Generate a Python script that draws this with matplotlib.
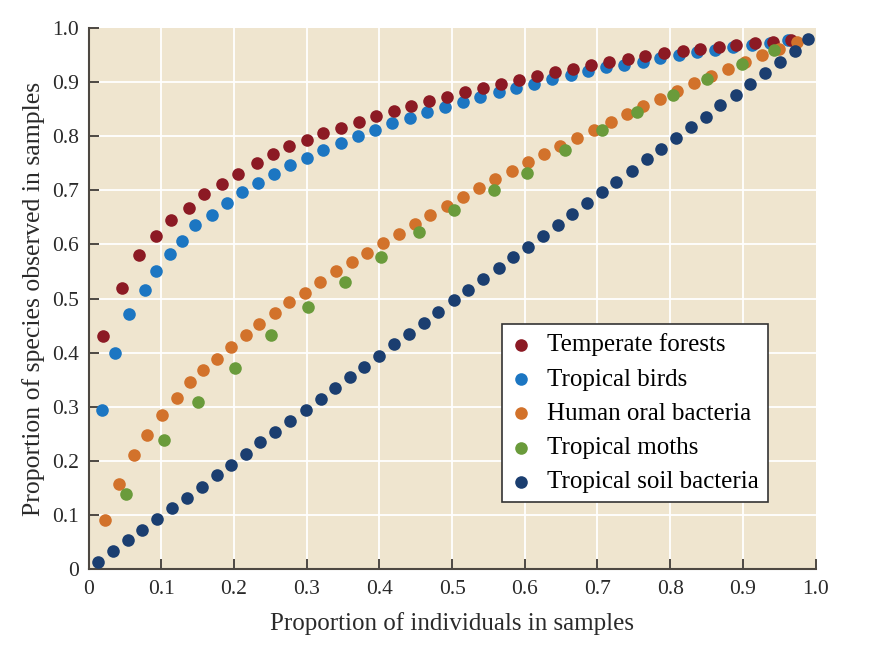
import matplotlib.pyplot as plt

# data
labels = ['Temperate forests', 'Tropical birds', 'Human oral bacteria',
          'Tropical moths', 'Tropical soil bacteria']
colors = ['#8c1a24', '#1c76c2', '#d2722b', '#6a9b3b', '#1b3e70']

forest_x = [0.020, 0.046, 0.069, 0.093, 0.113, 0.138, 0.159, 0.184, 0.205, 0.231,
            0.253, 0.276, 0.300, 0.323, 0.347, 0.372, 0.395, 0.420, 0.444, 0.468,
            0.493, 0.518, 0.542, 0.567, 0.592, 0.617, 0.642, 0.666, 0.691, 0.716,
            0.742, 0.766, 0.791, 0.817, 0.841, 0.867, 0.891, 0.916, 0.942, 0.966]
forest_y = [0.430, 0.520, 0.580, 0.615, 0.645, 0.667, 0.693, 0.712, 0.730, 0.750,
            0.767, 0.781, 0.793, 0.805, 0.816, 0.827, 0.837, 0.846, 0.855, 0.865,
            0.872, 0.881, 0.889, 0.897, 0.904, 0.911, 0.918, 0.924, 0.931, 0.937,
            0.942, 0.948, 0.953, 0.957, 0.962, 0.965, 0.969, 0.972, 0.975, 0.977]

birds_x = [0.019, 0.037, 0.056, 0.078, 0.093, 0.112, 0.129, 0.146, 0.170, 0.190,
           0.211, 0.233, 0.255, 0.277, 0.300, 0.323, 0.347, 0.371, 0.394, 0.418,
           0.442, 0.466, 0.490, 0.515, 0.539, 0.564, 0.588, 0.613, 0.638, 0.663,
           0.687, 0.712, 0.737, 0.762, 0.786, 0.812, 0.837, 0.862, 0.886, 0.912,
           0.937, 0.962]
birds_y = [0.293, 0.400, 0.471, 0.515, 0.551, 0.582, 0.606, 0.636, 0.655, 0.676,
           0.696, 0.714, 0.730, 0.746, 0.760, 0.774, 0.788, 0.800, 0.812, 0.824,
           0.833, 0.844, 0.854, 0.863, 0.873, 0.881, 0.890, 0.897, 0.905, 0.913,
           0.920, 0.927, 0.932, 0.938, 0.944, 0.950, 0.955, 0.960, 0.965, 0.969,
           0.973, 0.977]

oral_x = [0.022, 0.042, 0.063, 0.081, 0.101, 0.121, 0.140, 0.157, 0.177, 0.196,
          0.216, 0.235, 0.256, 0.276, 0.298, 0.318, 0.340, 0.362, 0.383, 0.405,
          0.427, 0.449, 0.470, 0.493, 0.515, 0.537, 0.559, 0.582, 0.605, 0.627,
          0.649, 0.672, 0.695, 0.718, 0.740, 0.763, 0.786, 0.810, 0.833, 0.856,
          0.880, 0.903, 0.926, 0.950, 0.974]
oral_y = [0.090, 0.158, 0.210, 0.248, 0.285, 0.316, 0.345, 0.368, 0.388, 0.411,
          0.432, 0.452, 0.473, 0.493, 0.511, 0.531, 0.550, 0.568, 0.585, 0.603,
          0.620, 0.638, 0.654, 0.671, 0.688, 0.704, 0.720, 0.735, 0.752, 0.767,
          0.782, 0.797, 0.812, 0.827, 0.841, 0.856, 0.869, 0.884, 0.898, 0.912,
          0.925, 0.938, 0.951, 0.962, 0.975]

moths_x = [0.052, 0.104, 0.150, 0.202, 0.251, 0.302, 0.353, 0.402, 0.455, 0.503,
           0.558, 0.603, 0.655, 0.706, 0.754, 0.804, 0.851, 0.899, 0.943]
moths_y = [0.139, 0.238, 0.308, 0.371, 0.432, 0.484, 0.531, 0.577, 0.622, 0.663,
           0.700, 0.732, 0.774, 0.811, 0.845, 0.876, 0.906, 0.933, 0.959]

soil_x = [0.013, 0.033, 0.054, 0.074, 0.094, 0.115, 0.135, 0.156, 0.176, 0.196,
          0.216, 0.236, 0.257, 0.277, 0.299, 0.319, 0.339, 0.359, 0.379, 0.400,
          0.420, 0.441, 0.461, 0.481, 0.502, 0.522, 0.543, 0.564, 0.584, 0.604,
          0.625, 0.645, 0.665, 0.686, 0.706, 0.726, 0.747, 0.768, 0.788, 0.808,
          0.829, 0.849, 0.869, 0.890, 0.910, 0.930, 0.951, 0.971, 0.990]
soil_y = [0.013, 0.033, 0.053, 0.073, 0.092, 0.113, 0.132, 0.152, 0.173, 0.193,
          0.213, 0.234, 0.253, 0.274, 0.294, 0.314, 0.334, 0.354, 0.374, 0.394,
          0.415, 0.435, 0.455, 0.475, 0.497, 0.515, 0.536, 0.556, 0.576, 0.596,
          0.615, 0.636, 0.656, 0.676, 0.696, 0.716, 0.736, 0.757, 0.777, 0.797,
          0.817, 0.836, 0.857, 0.877, 0.897, 0.917, 0.937, 0.957, 0.979]

ticks = [0, 0.1, 0.2, 0.3, 0.4, 0.5, 0.6, 0.7, 0.8, 0.9, 1.0]
tick_labels = ['0', '0.1', '0.2', '0.3', '0.4', '0.5', '0.6', '0.7', '0.8', '0.9', '1.0']

plt.rcParams['font.family'] = ['Liberation Serif', 'DejaVu Serif']

fig = plt.figure(figsize=(8.92, 6.5), dpi=100)
ax = fig.add_axes([88.6 / 892, (650 - 569) / 650, 727 / 892, 541 / 650])
ax.set_facecolor('#efe5cf')

series = [(forest_x, forest_y), (birds_x, birds_y), (oral_x, oral_y),
          (moths_x, moths_y), (soil_x, soil_y)]
# drawing order: birds under forests, moths over oral bacteria, soil on top
zorders = [4, 3, 5, 6, 7]
handles = []
for (xs, ys), c, lab, z in zip(series, colors, labels, zorders):
    h = ax.scatter(xs, ys, s=82, color=c, linewidths=0, label=lab, zorder=z,
                   clip_on=False)
    handles.append(h)

ax.set_xlim(0, 1.0)
ax.set_ylim(0, 1.0)
ax.set_xticks(ticks)
ax.set_xticklabels(tick_labels)
ax.set_yticks(ticks)
ax.set_yticklabels(tick_labels)

for v in ticks[1:-1]:
    ax.axvline(v, color='white', lw=1.3, zorder=1)
    ax.axhline(v, color='white', lw=1.3, zorder=1)

for side in ['top', 'right']:
    ax.spines[side].set_visible(False)
for side in ['left', 'bottom']:
    ax.spines[side].set_color('#4d4842')
    ax.spines[side].set_linewidth(1.5)

ax.tick_params(direction='in', length=7.5, width=1.4, color='#4d4842',
               labelsize=15.5, labelcolor='#2a2a2a')
ax.tick_params(axis='x', pad=8)
ax.tick_params(axis='y', pad=7)

ax.set_xlabel('Proportion of individuals in samples', fontsize=18,
              color='#2a2a2a', labelpad=9)
ax.set_ylabel('Proportion of species observed in samples', fontsize=18.5,
              color='#2a2a2a', labelpad=5)

leg = ax.legend(handles=handles, labels=labels, loc='upper left',
                bbox_to_anchor=(0.568, 0.452), borderaxespad=0,
                fontsize=18, frameon=True, fancybox=False, framealpha=1,
                edgecolor='#333333', facecolor='white', handletextpad=0.64,
                labelspacing=0.47, borderpad=0.36, handlelength=0.82,
                scatterpoints=1)
leg.get_frame().set_linewidth(1.2)
leg.set_zorder(10)

fig.savefig('out.png', dpi=100)
